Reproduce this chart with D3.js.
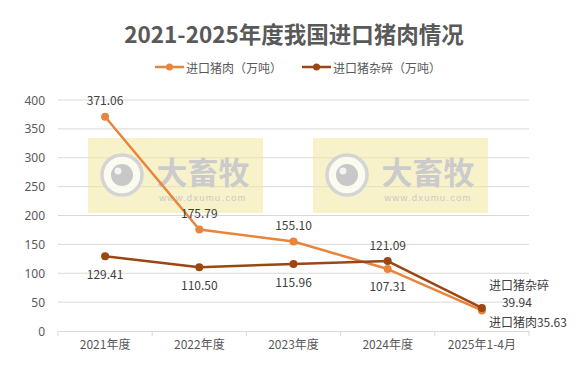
<!DOCTYPE html>
<html><head><meta charset="utf-8">
<script src="https://cdn.jsdelivr.net/npm/d3@7"></script>
<style>body{margin:0;background:#fff;}svg{display:block;font-family:"Noto Sans CJK SC","Microsoft YaHei",sans-serif;}</style>
</head><body><svg id="c" width="586" height="383"></svg>
<script>
const categories = ["2021年度","2022年度","2023年度","2024年度","2025年1-4月"];
const porkValues = [371.06, 175.79, 155.10, 107.31, 35.63];
const offalValues = [129.41, 110.50, 115.96, 121.09, 39.94];
const yTicks = [0,50,100,150,200,250,300,350,400];
const seriesNames = ["进口猪肉（万吨）","进口猪杂碎（万吨）"];
const titleText = "2021-2025年度我国进口猪肉情况";

(function(){
const svg = d3.select("#c");
const W=586,H=383;
const pLeft=58,pRight=529,pTop=100,pBottom=331;
const x = d3.scaleBand().domain(categories).range([pLeft,pRight]);
const y = d3.scaleLinear().domain([0,400]).range([pBottom,pTop]);
const cx = d => x(d)+x.bandwidth()/2;
const cOrange="#E8843C", cBrown="#9A4713", textC="#595959";

svg.append("text").attr("x",W/2+1).attr("y",33).attr("text-anchor","middle").attr("dominant-baseline","central")
  .attr("font-size",22.5).attr("font-weight","bold").attr("fill",textC).text(titleText);

// legend
const leg=[{n:seriesNames[0],c:cOrange,x0:155},{n:seriesNames[1],c:cBrown,x0:302}];
leg.forEach(l=>{
  const g=svg.append("g");
  g.append("line").attr("x1",l.x0).attr("x2",l.x0+29).attr("y1",67).attr("y2",67).attr("stroke",l.c).attr("stroke-width",2.5);
  g.append("circle").attr("cx",l.x0+14.5).attr("cy",67).attr("r",3.5).attr("fill",l.c);
  g.append("text").attr("x",l.x0+31).attr("y",67).attr("dominant-baseline","central").attr("font-size",12).attr("fill",textC).text(l.n);
});

// gridlines
svg.append("g").selectAll("line").data(yTicks.filter(t=>t>0)).join("line")
  .attr("x1",pLeft).attr("x2",pRight).attr("y1",d=>y(d)).attr("y2",d=>y(d)).attr("stroke","#d9d9d9").attr("stroke-width",1);

// watermarks
[88,313].forEach(wx=>{
  const g=svg.append("g").attr("transform",`translate(${wx},138)`);
  g.append("rect").attr("width",175).attr("height",75).attr("fill","#f3eaa8").attr("opacity",0.6);
  g.append("circle").attr("cx",34).attr("cy",37).attr("r",20).attr("fill","#fdfdf8").attr("fill-opacity",0.8).attr("stroke","#d4d4d4").attr("stroke-width",3.5);
  g.append("circle").attr("cx",34).attr("cy",37).attr("r",11).attr("fill","#c8c8c8");
  g.append("circle").attr("cx",30).attr("cy",33).attr("r",3.5).attr("fill","#f4f4f4");
  g.append("text").attr("x",115).attr("y",32).attr("text-anchor","middle").attr("dominant-baseline","central")
    .attr("font-size",31).attr("font-weight","bold").attr("fill","#cbcbcb").text("大畜牧");
  g.append("text").attr("x",115).attr("y",59).attr("text-anchor","middle").attr("dominant-baseline","central")
    .attr("font-size",9.5).attr("letter-spacing",1.2).attr("fill","#c9c9c9").attr("font-family","Arial, Liberation Sans, sans-serif").text("www.dxumu.com");
});

// y axis labels
svg.append("g").selectAll("text").data(yTicks).join("text")
  .attr("x",45).attr("y",d=>y(d)).attr("text-anchor","end").attr("dominant-baseline","central")
  .attr("font-size",12).attr("fill",textC).attr("font-family","Noto Sans, sans-serif").text(d=>d);

// x axis
const xa = d3.axisBottom(x).tickSize(0).tickSizeOuter(0);
const xg = svg.append("g").attr("transform",`translate(0,${pBottom})`).call(xa);
xg.select(".domain").attr("stroke","#d9d9d9");
xg.selectAll("text").attr("font-size",12).attr("fill",textC).attr("dy",0).attr("y",18).attr("font-family","'Noto Sans CJK SC',sans-serif");
const bounds = categories.map(c=>x(c)).concat([pRight]);
xg.selectAll(".bnd").data(bounds).join("line").attr("class","bnd")
  .attr("x1",d=>d).attr("x2",d=>d).attr("y1",0).attr("y2",5).attr("stroke","#d9d9d9");

// series
const line = d3.line().x((d,i)=>cx(categories[i])).y(d=>y(d));
[[porkValues,cOrange],[offalValues,cBrown]].forEach(([vals,col])=>{
  svg.append("path").datum(vals).attr("d",line).attr("fill","none").attr("stroke",col).attr("stroke-width",2.5).attr("stroke-linejoin","round");
  svg.append("g").selectAll("circle").data(vals).join("circle")
    .attr("cx",(d,i)=>cx(categories[i])).attr("cy",d=>y(d)).attr("r",4).attr("fill",col);
});

// labels
const fmt = d3.format(".2f");
const lab = (t,xx,yy,anchor)=>svg.append("text").attr("x",xx).attr("y",yy).attr("text-anchor",anchor||"middle")
  .attr("dominant-baseline","central").attr("font-size",12).attr("fill","#404040").text(t);
const porkPos=[-17,-17,-17,16];
const offalPos=[17,17,17,-17];
for(let i=0;i<4;i++){
  lab(fmt(porkValues[i]),cx(categories[i]),y(porkValues[i])+porkPos[i]);
  lab(fmt(offalValues[i]),cx(categories[i]),y(offalValues[i])+offalPos[i]);
}
const lx=cx(categories[4]);
lab("进口猪杂碎",lx+7,y(offalValues[4])-23,"start");
lab(fmt(offalValues[4]),lx+35,y(offalValues[4])-6,"middle");
lab("进口猪肉"+fmt(porkValues[4]),lx+7,y(porkValues[4])+11,"start");
})();
</script></body></html>
